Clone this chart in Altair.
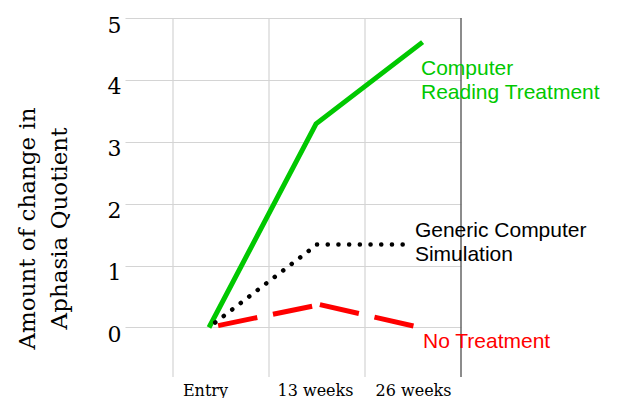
import altair as alt
import pandas as pd

# ---- data ----
green_x = [0.875, 1.99, 3.10]
green_y = [0.0, 3.29, 4.61]
black_x = [0.94, 2.0, 2.9]
black_y = [0.08, 1.34, 1.34]
red_x = [0.97, 2.03, 3.07]
red_y = [0.03, 0.37, 0.0]

tick_pos = [0.833, 1.979, 3.0]
tick_labels = ["Entry", "13 weeks", "26 weeks"]
grid_x = [0.5, 1.5, 2.5]
edge_x = [3.5]
y_ticks = [0, 1, 2, 3, 4, 5]

label_texts = ["Computer\nReading Treatment", "Generic Computer\nSimulation", "No Treatment"]
label_x = [3.083, 3.02, 3.104]
label_y = [4.35, 1.74, -0.06]
GREEN = "#00c800"
RED = "#ff0000"
BLACK = "#000000"
label_colors = [GREEN, BLACK, RED]

SERIF = "DejaVu Serif"
SANS = "Liberation Sans"

xscale = alt.Scale(domain=[0, 3.5], nice=False, zero=False)
yscale = alt.Scale(domain=[-0.8, 5], nice=False, zero=False)

label_expr = " : ".join(
    f"abs(datum.value - {p}) < 0.1 ? '{t}'" for p, t in zip(tick_pos, tick_labels)
) + " : ''"

xaxis = alt.Axis(values=tick_pos, labelExpr=label_expr, grid=False, ticks=False,
                 domain=False, title=None, labelFont=SERIF, labelFontSize=16,
                 labelColor="#000", labelPadding=5, labelFlush=False)
yaxis = alt.Axis(values=y_ticks, grid=True, gridColor="#d4d4d4", gridWidth=1.2,
                 ticks=False, domain=False, labelFont=SERIF, labelFontSize=22,
                 labelColor="#000", labelPadding=4, labelBaseline="alphabetic",
                 labelOffset=14,
                 title=["Amount of change in", "Aphasia Quotient"],
                 titleFont=SERIF, titleFontSize=23, titleFontWeight="normal",
                 titleColor="#000", titleAngle=270, titleAlign="center",
                 titleBaseline="top", titleLineHeight=32, titleX=-109, titleY=210)


def X(field="x"):
    return alt.X(f"{field}:Q", scale=xscale, axis=xaxis)


def Y(field="y"):
    return alt.Y(f"{field}:Q", scale=yscale, axis=yaxis)


def segments(xs, ys):
    rows = []
    for i in range(len(xs) - 1):
        rows.append({"x": xs[i], "y": ys[i], "x2": xs[i + 1], "y2": ys[i + 1]})
    return pd.DataFrame(rows)


green_df = pd.DataFrame({"x": green_x, "y": green_y, "o": list(range(len(green_x)))})
black_seg = segments(black_x, black_y)
red_seg = segments(red_x, red_y)

vgrid = alt.Chart(pd.DataFrame({"x": grid_x})).mark_rule(
    color="#d4d4d4", strokeWidth=1.2).encode(x=X())
edge = alt.Chart(pd.DataFrame({"x": edge_x})).mark_rule(
    color="#666666", strokeWidth=1.5).encode(x=X())

green_line = alt.Chart(green_df).mark_line(
    color=GREEN, strokeWidth=5, strokeCap="butt", strokeJoin="miter").encode(
    x=X(), y=Y(), order="o:Q")

black_line = alt.Chart(black_seg).mark_rule(
    color=BLACK, strokeWidth=4.5, strokeCap="round", strokeDash=[0.1, 10.6]).encode(
    x=X(), y=Y(), x2="x2:Q", y2="y2:Q")

red_line = alt.Chart(red_seg).mark_rule(
    color=RED, strokeWidth=5, strokeCap="butt", strokeDash=[40, 16]).encode(
    x=X(), y=Y(), x2="x2:Q", y2="y2:Q")

labels_df = pd.DataFrame({"t": label_texts, "x": label_x, "y": label_y, "c": label_colors})
labels = alt.Chart(labels_df).mark_text(
    align="left", baseline="top", font=SANS, fontSize=21, lineBreak="\n",
    lineHeight=24).encode(
    x=X(), y=Y(), text="t:N", color=alt.Color("c:N", scale=None))

chart = alt.layer(vgrid, edge, green_line, black_line, red_line, labels).properties(
    width=336, height=359,
    autosize=alt.AutoSizeParams(type="none"),
    padding={"left": 117, "top": 10, "right": 149, "bottom": 21},
).configure_view(stroke=None)

chart.save("out.html", embed_options={"renderer": "svg", "actions": False})
